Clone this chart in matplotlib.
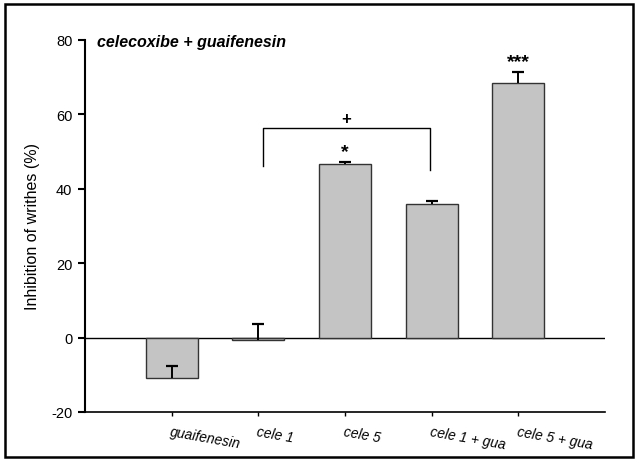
import numpy as np
import matplotlib.pyplot as plt
from matplotlib.patches import Rectangle

plt.rcParams['font.family'] = ['Liberation Sans', 'DejaVu Sans']
plt.rcParams['axes.unicode_minus'] = False

# inhibition of writhes, mean and upper SEM
groups = ["guaifenesin", "cele 1", "cele 5", "cele 1 + gua", "cele 5 + gua"]
means = [-10.9, -0.6, 46.8, 36.0, 68.4]
sem_up = [3.4, 4.2, 0.4, 0.6, 3.0]
marks = ["", "", "*", "", "***"]

# bracket cele 1 vs cele 1 + gua
bracket_x = [2.05, 3.98]
bracket_top = 56.3
bracket_feet = [46.0, 45.0]

fig = plt.figure(figsize=(6.36, 4.6), dpi=100)
ax = fig.add_axes([85 / 636, 47 / 460, 520 / 636, 372 / 460])

x = np.arange(1, len(groups) + 1)
m = np.array(means)
top = m + np.array(sem_up)
ax.bar(x, m, width=0.6, color="#c4c4c4", edgecolor="#333333", linewidth=1.0, zorder=2)

# one-sided error bars: stem from the bar end plus a cap on top only
ax.vlines(x, m, top, color="black", linewidth=1.4, zorder=3)
ax.plot(x, top, linestyle="none", marker="_", markersize=9, markeredgewidth=1.6,
        color="black", zorder=3)

for xi, t, s in zip(x, top, marks):
    if s:
        ax.text(xi, t + 0.6, s, ha="center", va="bottom", fontsize=14, fontweight="bold")

ax.axhline(0, color="black", linewidth=1.0, zorder=1)

# bracket
ax.plot([bracket_x[0], bracket_x[0], bracket_x[1], bracket_x[1]],
        [bracket_feet[0], bracket_top, bracket_top, bracket_feet[1]],
        color="black", linewidth=1.0)
ax.text(np.mean(bracket_x), bracket_top + 0.6, "+", ha="center", va="bottom",
        fontsize=12, fontweight="bold")

ax.set_xlim(0, 6)
ax.set_ylim(-20, 80)
ax.set_yticks([-20, 0, 20, 40, 60, 80])
ax.set_xticks(x)
ax.set_xticklabels(groups, rotation=-10, ha="left", rotation_mode="anchor",
                   fontstyle="italic", fontsize=10)
ax.tick_params(axis="x", length=3, width=1.0, pad=6)
ax.tick_params(axis="y", length=5, width=1.5, labelsize=10.5, pad=4)
ax.spines["top"].set_visible(False)
ax.spines["right"].set_visible(False)
ax.spines["left"].set_linewidth(1.5)
ax.spines["bottom"].set_linewidth(1.2)
ax.set_ylabel("Inhibition of writhes (%)", fontsize=11.5, labelpad=8)

ax.text(0.023, 0.995, "celecoxibe + guaifenesin", transform=ax.transAxes, ha="left", va="center",
        fontsize=11.5, fontweight="bold", fontstyle="italic")

# frame round the whole figure
fig.patches.append(Rectangle((5 / 636, 2 / 460), 628 / 636, 453 / 460, transform=fig.transFigure,
                             fill=False, edgecolor="black", linewidth=1.8))

fig.savefig("out.png", dpi=100)
